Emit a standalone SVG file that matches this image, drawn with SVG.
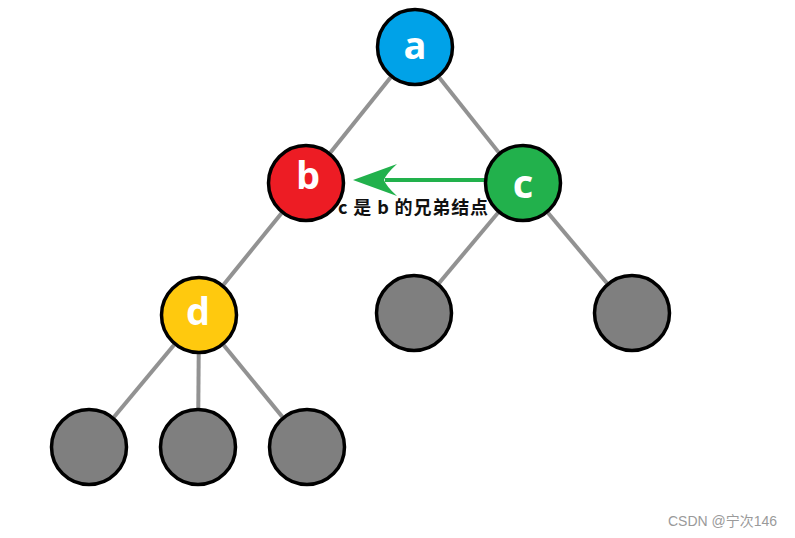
<svg xmlns="http://www.w3.org/2000/svg" width="795" height="538" viewBox="0 0 795 538">
<style>
.edge{stroke:#929292;stroke-width:4;fill:none}
.node circle{stroke:#000;stroke-width:3.5}
.lbl{font-family:"Open Sans","Liberation Sans",Arial,sans-serif;font-weight:bold;font-size:38px;fill:#fff;text-anchor:middle}
.gray{fill:#7f7f7f}
.note{font-family:"Noto Sans CJK SC","Liberation Sans",sans-serif;font-weight:bold;font-size:18px;fill:#111}
.wm{font-family:"Liberation Sans","Noto Sans CJK SC",sans-serif;font-size:14px;fill:#9a9a9a}
</style>
<rect width="795" height="538" fill="#fff"/>
<g id="connectors">
<line class="edge" x1="415" y1="47" x2="306" y2="183"/>
<line class="edge" x1="415" y1="47" x2="523" y2="183"/>
<line class="edge" x1="306" y1="183" x2="199" y2="315"/>
<line class="edge" x1="523" y1="183" x2="414" y2="313"/>
<line class="edge" x1="523" y1="183" x2="632" y2="313"/>
<line class="edge" x1="199" y1="315" x2="89" y2="447"/>
<line class="edge" x1="199" y1="315" x2="198" y2="447"/>
<line class="edge" x1="199" y1="315" x2="307" y2="447"/>
<g id="sibling-arrow">
<line x1="486" y1="180" x2="385" y2="180" stroke="#22b14c" stroke-width="4"/>
<path d="M353,180 L397,164 Q386,174 384,180 Q386,186 397,196 Z" fill="#22b14c"/>
</g>
</g>
<g id="node-a" class="node"><circle cx="415" cy="47" r="37.5" fill="#00a2e8"/><text class="lbl" x="415" y="59">a</text></g>
<g id="node-b" class="node"><circle cx="306" cy="183" r="37.5" fill="#ed1c24"/><text class="lbl" x="308" y="189">b</text></g>
<g id="node-c" class="node"><circle cx="523" cy="183" r="37.5" fill="#22b14c"/><text class="lbl" x="523" y="198" style="font-size:40px">c</text></g>
<g id="node-d" class="node"><circle cx="199" cy="315" r="37.5" fill="#ffc90e"/><text class="lbl" x="198" y="325">d</text></g>
<g id="node-e" class="node"><circle cx="414" cy="313" r="37.5" class="gray"/></g>
<g id="node-f" class="node"><circle cx="632" cy="313" r="37.5" class="gray"/></g>
<g id="node-g" class="node"><circle cx="89" cy="447" r="37.5" class="gray"/></g>
<g id="node-h" class="node"><circle cx="198" cy="447" r="37.5" class="gray"/></g>
<g id="node-i" class="node"><circle cx="307" cy="447" r="37.5" class="gray"/></g>
<text class="note" x="338" y="214" textLength="150" lengthAdjust="spacing">c 是 b 的兄弟结点</text>
<text class="wm" x="668" y="526">CSDN @宁次146</text>
</svg>
